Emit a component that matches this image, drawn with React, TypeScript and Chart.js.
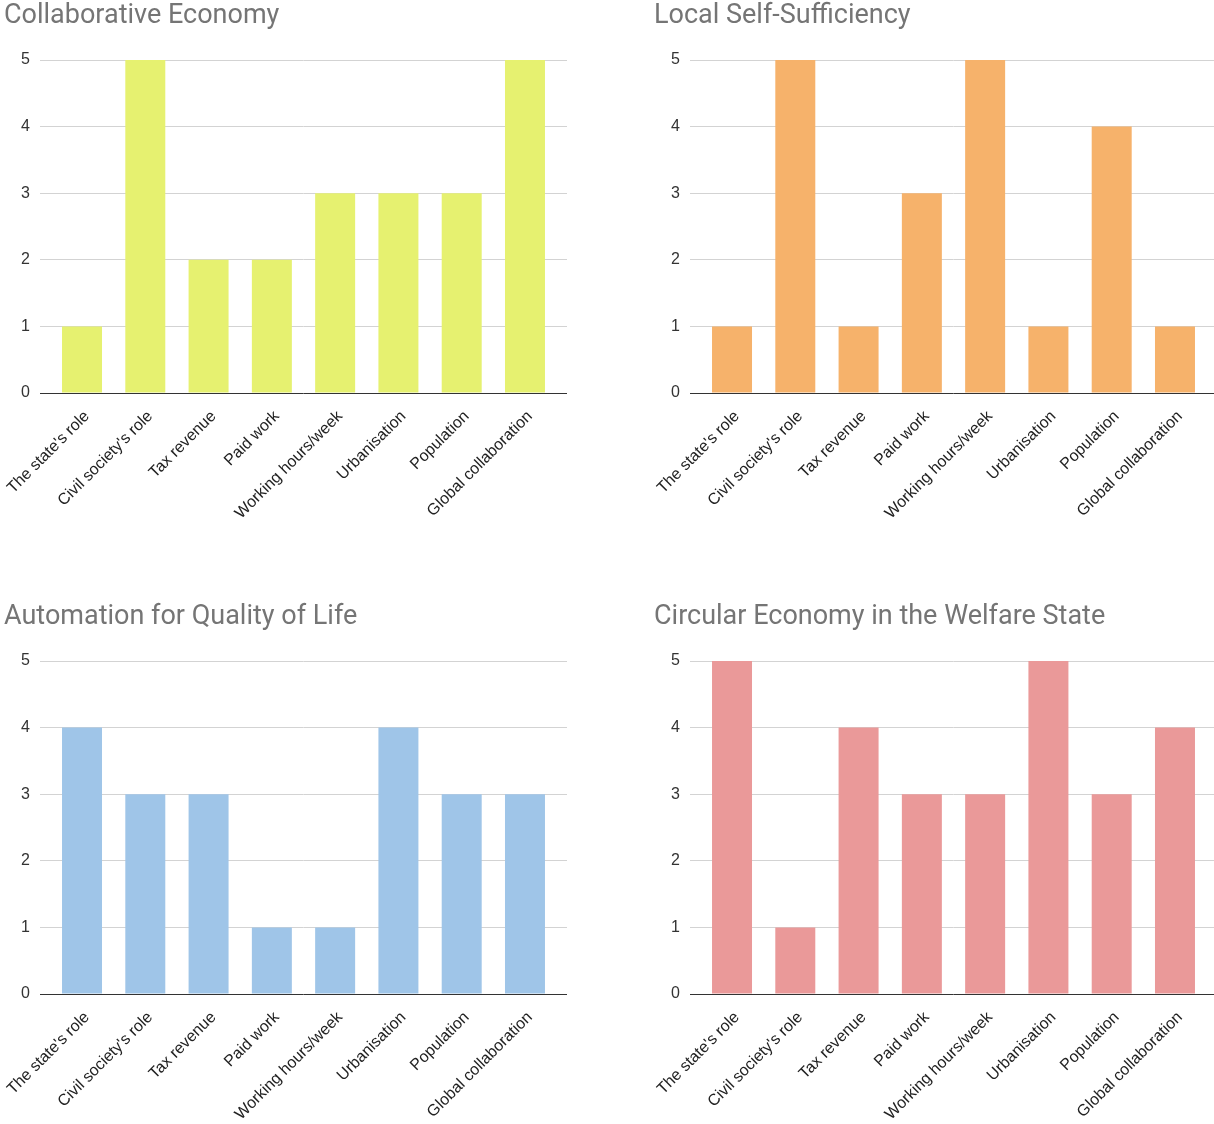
import React, { useEffect, useRef } from "react";
import { Chart, registerables } from "chart.js";

Chart.register(...registerables);

const categories = [
  "The state's role",
  "Civil society's role",
  "Tax revenue",
  "Paid work",
  "Working hours/week",
  "Urbanisation",
  "Population",
  "Global collaboration",
];

const collaborativeValues = [1, 5, 2, 2, 3, 3, 3, 5];
const localValues = [1, 5, 1, 3, 5, 1, 4, 1];
const automationValues = [4, 3, 3, 1, 1, 4, 3, 3];
const circularValues = [5, 1, 4, 3, 3, 5, 3, 4];

const yTicks = [0, 1, 2, 3, 4, 5];

const panels = [
  { title: "Collaborative Economy", values: collaborativeValues, color: "#e6f170", left: 0, top: 0 },
  { title: "Local Self-Sufficiency", values: localValues, color: "#f6b26b", left: 650, top: 0 },
  { title: "Automation for Quality of Life", values: automationValues, color: "#9fc5e8", left: 0, top: 601 },
  { title: "Circular Economy in the Welfare State", values: circularValues, color: "#ea9999", left: 650, top: 601 },
];

const CW = 567;
const CH = 545;

function Panel({ title, values, color }: { title: string; values: number[]; color: string }) {
  const ref = useRef<HTMLCanvasElement | null>(null);
  useEffect(() => {
    if (!ref.current) return;
    const chart = new Chart(ref.current, {
      type: "bar",
      data: {
        datasets: [
          {
            data: categories.map((_, i) => ({ x: i, y: values[i] })),
            backgroundColor: color,
            borderWidth: 0,
            categoryPercentage: 1,
            barPercentage: 0.632,
          },
        ],
      },
      options: {
        responsive: false,
        animation: false,
        events: [],
        layout: { padding: { left: 4, top: 0, right: 0, bottom: 0 } },
        plugins: {
          legend: { display: false },
          tooltip: { enabled: false },
          title: {
            display: true,
            text: title,
            align: "start",
            color: "#757575",
            font: { family: "Roboto", size: 27, weight: "normal" },
            padding: { top: 0, bottom: 27.6 },
          },
        },
        scales: {
          x: {
            type: "linear",
            min: -0.664,
            max: 7.664,
            offset: false,
            grid: { display: false, offset: false },
            border: { display: false },
            afterBuildTicks: (axis: any) => {
              axis.ticks = categories.map((_, i) => ({ value: i }));
            },
            afterFit: (axis: any) => {
              axis.height = CH - 393;
              axis.paddingLeft = 0;
              axis.paddingRight = 0;
            },
            ticks: {
              autoSkip: false,
              minRotation: 45,
              maxRotation: 45,
              padding: 6,
              labelOffset: 5,
              color: "#222222",
              font: { family: "Liberation Sans", size: 16 },
              callback: (v: any) => categories[Math.round(Number(v))] ?? "",
            },
          },
          y: {
            min: 0,
            max: 5,
            afterBuildTicks: (axis: any) => {
              axis.ticks = yTicks.map((v) => ({ value: v }));
            },
            afterFit: (axis: any) => {
              axis.width = 36;
            },
            grid: {
              drawTicks: false,
              color: (ctx: any) => (ctx.tick && ctx.tick.value === 0 ? "#333333" : "#d3d3d3"),
              lineWidth: 1,
            },
            border: { display: false },
            ticks: {
              padding: 10,
              color: "#333333",
              font: { family: "Liberation Sans", size: 16 },
            },
          },
        },
      },
    } as any);
    return () => chart.destroy();
  }, [title, values, color]);
  return <canvas ref={ref} width={CW} height={CH} style={{ width: CW, height: CH, display: "block" }} />;
}

export default function App() {
  return (
    <div
      style={{
        position: "absolute",
        left: 0,
        top: 0,
        width: 1214,
        height: 1124,
        overflow: "hidden",
        background: "#ffffff",
      }}
    >
      {panels.map((p) => (
        <div key={p.title} style={{ position: "absolute", left: p.left, top: p.top, width: CW, height: CH }}>
          <Panel title={p.title} values={p.values} color={p.color} />
        </div>
      ))}
    </div>
  );
}
